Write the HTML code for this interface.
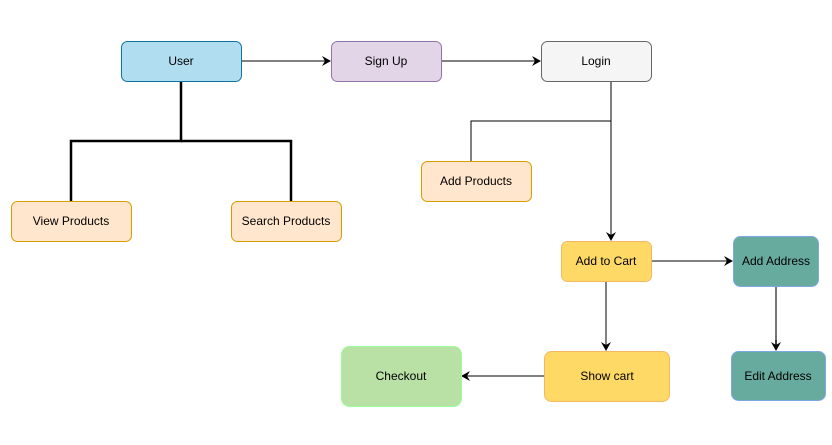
<!DOCTYPE html>
<html><head><meta charset="utf-8"><style>
html,body{margin:0;padding:0;background:#fff;}
svg{display:block;}
text{font-family:"Liberation Sans",Arial,sans-serif;font-size:12px;fill:#000;text-anchor:middle;dominant-baseline:central;}
</style></head><body>
<svg width="832" height="445" viewBox="0 0 832 445" xmlns="http://www.w3.org/2000/svg">
<defs>
<marker id="a" markerWidth="10" markerHeight="10" refX="8" refY="5" orient="auto" markerUnits="userSpaceOnUse">
<path d="M0,0 L9,5 L0,10 L3,5 Z" fill="#000"/>
</marker>
</defs>
<!-- connectors -->
<g fill="none" stroke="#000">
<line x1="241" y1="61" x2="330" y2="61" marker-end="url(#a)"/>
<line x1="441" y1="61" x2="540" y2="61" marker-end="url(#a)"/>
<polyline points="181,81 181,141 71,141 71,201" stroke-width="2.5"/>
<polyline points="181,141 291,141 291,201" stroke-width="2.5"/>
<line x1="611" y1="81" x2="611" y2="240" marker-end="url(#a)"/>
<polyline points="611,121 471,121 471,161"/>
<line x1="651" y1="261" x2="732" y2="261" marker-end="url(#a)"/>
<line x1="606" y1="281" x2="606" y2="350" marker-end="url(#a)"/>
<line x1="544" y1="376" x2="462" y2="376" marker-end="url(#a)"/>
<line x1="776" y1="286" x2="776" y2="345" stroke="#777" stroke-width="2"/>
<line x1="776" y1="340" x2="776" y2="350" marker-end="url(#a)"/>
</g>
<!-- nodes -->
<rect x="121.5" y="41.5" width="120" height="40" rx="6" fill="#b1ddf0" stroke="#10739e"/>
<text x="181" y="61">User</text>
<rect x="331.5" y="41.5" width="110" height="40" rx="6" fill="#e1d5e7" stroke="#9673a6"/>
<text x="386" y="61">Sign Up</text>
<rect x="541.5" y="41.5" width="110" height="40" rx="6" fill="#f5f5f5" stroke="#666"/>
<text x="596" y="61">Login</text>
<rect x="11.5" y="201.5" width="120" height="40" rx="6" fill="#ffe6cc" stroke="#d79b00"/>
<text x="71" y="221">View Products</text>
<rect x="231.5" y="201.5" width="110" height="40" rx="6" fill="#ffe6cc" stroke="#d79b00"/>
<text x="286" y="221">Search Products</text>
<rect x="421.5" y="161.5" width="110" height="40" rx="6" fill="#ffe6cc" stroke="#d79b00"/>
<text x="476" y="181">Add Products</text>
<rect x="561.5" y="241.5" width="90" height="40" rx="6" fill="#ffd966" stroke="#f4b860"/>
<text x="606" y="261">Add to Cart</text>
<rect x="733.5" y="236.5" width="85" height="50" rx="7" fill="#67ab9f" stroke="#7ea6e0"/>
<text x="776" y="261">Add Address</text>
<rect x="731.5" y="351.5" width="94" height="49" rx="7" fill="#67ab9f" stroke="#7ea6e0"/>
<text x="778" y="376">Edit Address</text>
<rect x="544.5" y="351.5" width="125" height="50" rx="7" fill="#ffd966" stroke="#f4b860"/>
<text x="607" y="376">Show cart</text>
<rect x="341.5" y="346.5" width="120" height="60" rx="8" fill="#b9e0a5" stroke="#99ff99"/>
<text x="401" y="376">Checkout</text>
</svg>
</body></html>
